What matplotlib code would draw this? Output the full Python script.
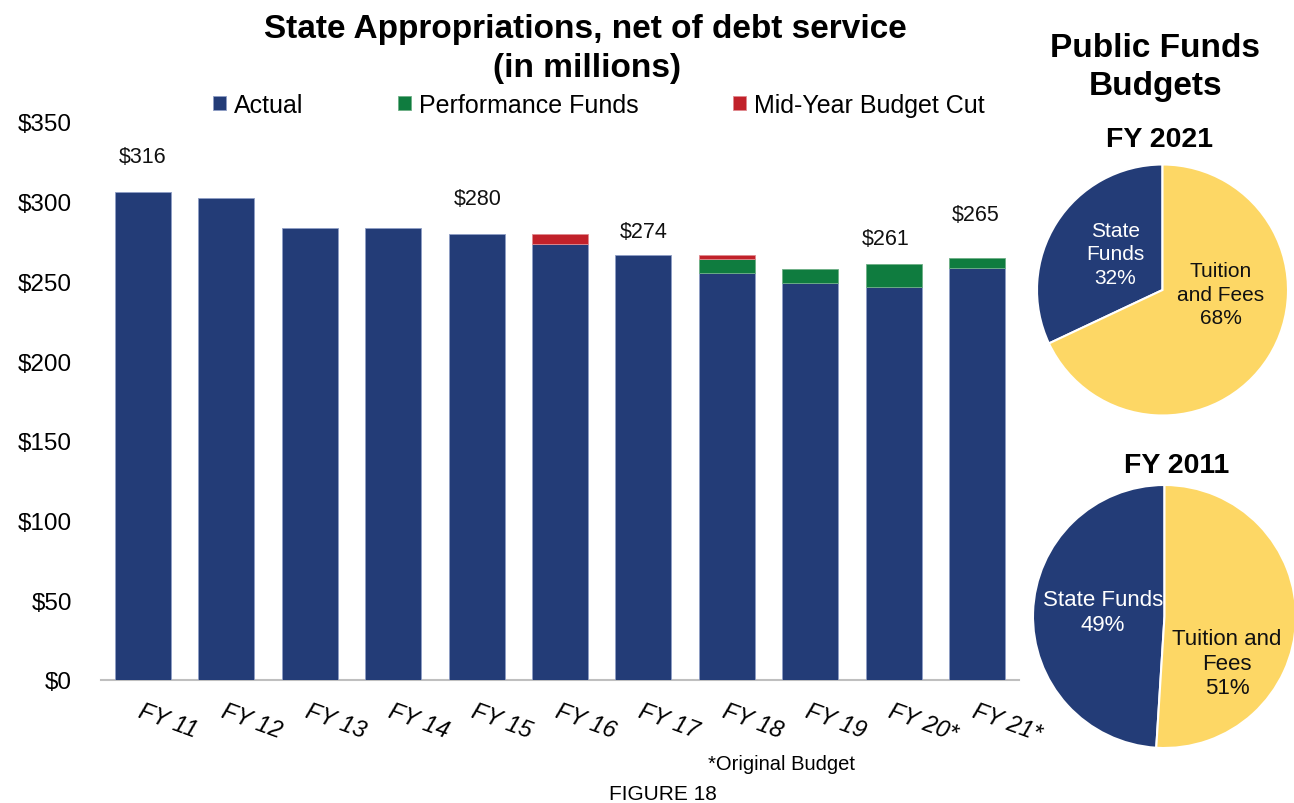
import matplotlib.pyplot as plt
import numpy as np

plt.rcParams['font.family'] = ['Liberation Sans', 'DejaVu Sans']

# state appropriations, $ millions
years = ['FY 11', 'FY 12', 'FY 13', 'FY 14', 'FY 15', 'FY 16', 'FY 17', 'FY 18', 'FY 19', 'FY 20*', 'FY 21*']
actual = [306, 302.5, 283.5, 283.5, 280, 273.5, 266.5, 255, 249, 246.3, 258.5]
performance = [0, 0, 0, 0, 0, 0, 0, 8.8, 9, 14.7, 6.5]
midyear_cut = [0, 0, 0, 0, 0, 6.5, 0, 2.8, 0, 0, 0]

# callout labels over some of the bars
callout_idx = [0, 4, 6, 9, 10]
callout_txt = ['$316', '$280', '$274', '$261', '$265']
callout_off = [(0, 26), (1, 25), (0, 17), (-6, 18), (-1, 31)]  # points

# public funds budget split
pie_names = ['State Funds', 'Tuition and Fees']
pie_2021 = [32, 68]
pie_2011 = [49, 51]

navy = '#233C77'
green = '#0F7C3F'
red = '#C1212A'
yellow = '#FDD765'

W, H = 1294, 804
fig = plt.figure(figsize=(W / 100, H / 100), dpi=100)

def px_box(x0, y0, x1, y1):
    return [x0 / W, 1 - y1 / H, (x1 - x0) / W, (y1 - y0) / H]

ax = fig.add_axes(px_box(101.3, 123, 1018.7, 681))
x = np.arange(len(years))
act = np.array(actual)
perf = np.array(performance)
cut = np.array(midyear_cut)
bw = 0.67

def stack(vals, bottom, color, edge, label):
    # only segments that are actually there, so empty ones leave no outline
    keep = vals > 0
    return ax.bar(x[keep], vals[keep], bw, bottom=bottom[keep], color=color,
                  edgecolor=edge, linewidth=0.6, label=label, zorder=3)

stack(act, np.zeros_like(act), navy, '#8E9DC5', 'Actual')
stack(perf, act, green, '#6DAF86', 'Performance Funds')
stack(cut, act + perf, red, '#E08A8F', 'Mid-Year Budget Cut')

total = act + perf + cut
for i, t, (dx, dy) in zip(callout_idx, callout_txt, callout_off):
    ax.annotate(t, xy=(i, total[i]), xytext=(dx, dy), textcoords='offset points',
                ha='center', va='center', fontsize=15.5, color='#111111')

ax.set_xlim(-0.5, len(years) - 0.5)
ax.set_ylim(0, 350)
ax.set_yticks(np.arange(0, 351, 50))
ax.set_yticklabels(['$%d' % v for v in np.arange(0, 351, 50)], fontsize=17.5)
ax.tick_params(axis='y', length=0, pad=21)
ax.set_xticks(x)
ax.set_xticklabels(years, fontsize=17, style='italic')
ax.tick_params(axis='x', length=0, pad=14)
for lab in ax.get_xticklabels():
    lab.set_rotation(-20)
    lab.set_rotation_mode('anchor')
    lab.set_ha('left')
    lab.set_va('top')
for s in ['top', 'right', 'left']:
    ax.spines[s].set_visible(False)
ax.spines['bottom'].set_color('#BFBFBF')
ax.spines['bottom'].set_linewidth(1.5)

fig.text(585 / W, 1 - 38 / H, 'State Appropriations, net of debt service',
         ha='center', va='baseline', fontsize=24, fontweight='bold')
fig.text(587 / W, 1 - 77 / H, '(in millions)',
         ha='center', va='baseline', fontsize=24, fontweight='bold')

handles, labels = ax.get_legend_handles_labels()
fig.legend(handles, labels, loc='center', bbox_to_anchor=(599 / W, 1 - 106 / H),
           ncol=3, frameon=False, fontsize=18, handlelength=0.52, handleheight=0.52,
           handletextpad=0.3, columnspacing=3.8, borderpad=0)

fig.text(782 / W, 1 - 770 / H, '*Original Budget', ha='center', va='baseline', fontsize=14.5)
fig.text(663 / W, 1 - 800 / H, 'FIGURE 18', ha='center', va='baseline', fontsize=15)

# pies
fig.text(1155 / W, 1 - 56.7 / H, 'Public Funds', ha='center', va='baseline',
         fontsize=24, fontweight='bold')
fig.text(1156 / W, 1 - 95 / H, 'Budgets', ha='center', va='baseline',
         fontsize=24, fontweight='bold')
fig.text(1160 / W, 1 - 146.7 / H, 'FY 2021', ha='center', va='baseline',
         fontsize=20.5, fontweight='bold')
fig.text(1177 / W, 1 - 473 / H, 'FY 2011', ha='center', va='baseline',
         fontsize=20.5, fontweight='bold')

def draw_pie(box, vals, lab_pos, fs, ls):
    pa = fig.add_axes(box)
    pa.pie(vals, colors=[navy, yellow], startangle=90, counterclock=True,
           wedgeprops=dict(edgecolor='white', linewidth=1.5))
    pa.set_xlim(-1, 1)
    pa.set_ylim(-1, 1)
    pa.set_aspect('equal')
    pa.axis('off')
    for (lx, ly, text), col in zip(lab_pos, ['white', '#111111']):
        pa.text(lx, ly, text, ha='center', va='center', color=col, fontsize=fs,
                linespacing=ls)
    return pa

lab21 = [(-0.378, 0.287, 'State\nFunds\n%d%%' % pie_2021[0]),
         (0.466, -0.032, 'Tuition\nand Fees\n%d%%' % pie_2021[1])]
draw_pie(px_box(1037, 165.5, 1288, 416.5), pie_2021, lab21, 15, 1.28)

lab11 = [(-0.468, 0.034, '%s\n%d%%' % (pie_names[0], pie_2011[0])),
         (0.475, -0.354, 'Tuition and\nFees\n%d%%' % pie_2011[1])]
draw_pie(px_box(1033, 486, 1296, 749), pie_2011, lab11, 16, 1.2)

fig.savefig('out.png', dpi=100)
